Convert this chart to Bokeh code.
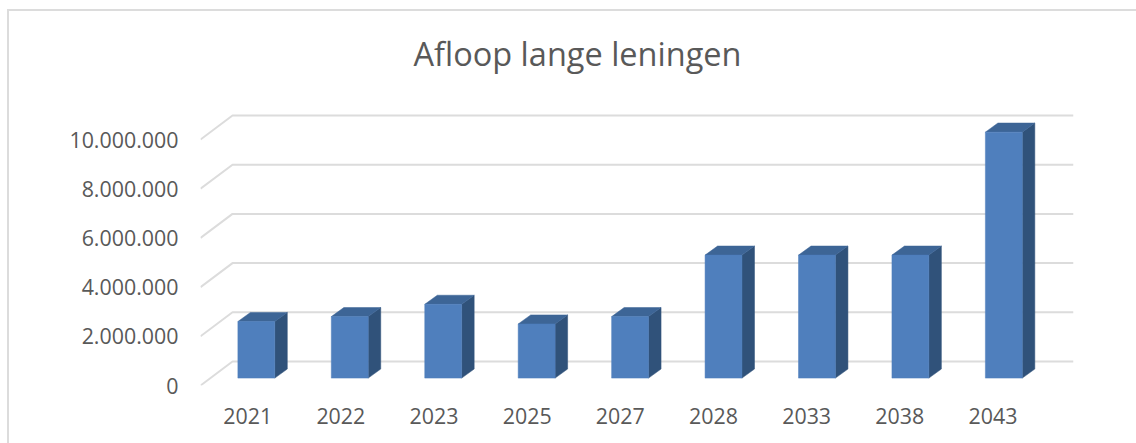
from bokeh.plotting import figure
from bokeh.embed import file_html
from bokeh.resources import INLINE
from bokeh.models import FixedTicker

title = "Afloop lange leningen"
years = ["2021", "2022", "2023", "2025", "2027", "2028", "2033", "2038", "2043"]
values = [2300000, 2500000, 3000000, 2200000, 2500000, 5000000, 5000000, 5000000, 10000000]
y_ticks = [0, 2000000, 4000000, 6000000, 8000000, 10000000]
y_labels = ["0", "2.000.000", "4.000.000", "6.000.000", "8.000.000", "10.000.000"]

FONT = "Open Sans"
TEXT = "#595959"
GRID = "#dcdcdc"
FRONT = "#4f7fbd"
TOP = "#3d6596"
SIDE = "#30527a"

# 3D look, in data units
X_MAX = 9.343
Y_MAX = 11423000
WALL_DX = 0.3425
WALL_DY = 975000
BAR_LEFT = 0.40
BAR_WIDTH = 0.395
BAR_BASE = 300000
BAR_DX = 0.134
BAR_DY = 370000

# Chart-area border: only its top and left edges are in view
edge = f"linear-gradient({GRID},{GRID})"
page_bg = f"{edge} 7px 9px/2px 434px no-repeat, {edge} 7px 9px/1129px 2px no-repeat, white"

p = figure(width=1136, height=443, output_backend="svg", toolbar_location=None,
           x_range=(0, X_MAX), y_range=(0, Y_MAX),
           min_border_left=200, min_border_right=63, min_border_top=104, min_border_bottom=58,
           title=title, outline_line_color=None, background_fill_color=None,
           border_fill_color=None, styles={"background": page_bg})
p.title.text_font = FONT
p.title.text_font_size = "32.5px"
p.title.text_font_style = "normal"
p.title.text_color = TEXT
p.title.align = "left"
p.title.offset = 213
p.title.standoff = 57

p.grid.visible = False
for ax in (p.xaxis[0], p.yaxis[0]):
    ax.axis_line_color = None
    ax.major_tick_line_color = None
    ax.minor_tick_line_color = None
    ax.major_label_text_font = FONT
    ax.major_label_text_font_size = "21.4px"
    ax.major_label_text_color = TEXT

p.yaxis[0].ticker = FixedTicker(ticks=y_ticks)
p.yaxis[0].major_label_overrides = dict(zip(y_ticks, y_labels))
p.yaxis[0].major_label_standoff = 16

x_ticks = [i * 0.997 + 0.505 for i in range(len(years))]
p.xaxis[0].ticker = FixedTicker(ticks=x_ticks)
p.xaxis[0].major_label_overrides = dict(zip(x_ticks, years))
p.xaxis[0].major_label_standoff = 16

# Floor/wall gridlines
p.multi_line(
    xs=[[0, WALL_DX, X_MAX] for _ in y_ticks],
    ys=[[v, v + WALL_DY, v + WALL_DY] for v in y_ticks],
    line_color=GRID, line_width=2)

# Bars
lefts = [i + BAR_LEFT for i in range(len(values))]
rights = [x + BAR_WIDTH for x in lefts]
tops = [v + BAR_BASE for v in values]
p.patches(
    xs=[[r, r + BAR_DX, r + BAR_DX, r] for r in rights],
    ys=[[BAR_BASE, BAR_BASE + BAR_DY, t + BAR_DY, t] for t in tops],
    fill_color=SIDE, line_color=SIDE, line_width=0.5)
p.patches(
    xs=[[l, l + BAR_DX, r + BAR_DX, r] for l, r in zip(lefts, rights)],
    ys=[[t, t + BAR_DY, t + BAR_DY, t] for t in tops],
    fill_color=TOP, line_color=TOP, line_width=0.5)
p.quad(left=lefts, right=rights, bottom=BAR_BASE, top=tops,
       fill_color=FRONT, line_color=FRONT, line_width=0.5)

open("out.html", "w").write(file_html(p, INLINE))
